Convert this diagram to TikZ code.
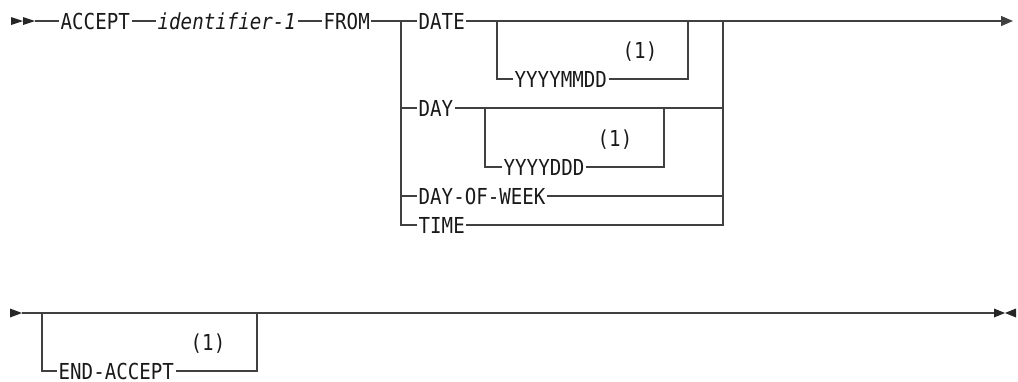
\documentclass[tikz,border=0pt]{standalone}
\usepackage{fontspec}
\setmonofont[FakeStretch=0.87]{DejaVu Sans Mono}
\usepackage{tikz}
\usetikzlibrary{arrows.meta, positioning, calc}

\begin{document}
\begin{tikzpicture}[
    x=1pt, y=-1pt,
    kw/.style={anchor=west, inner xsep=1.5pt, inner ysep=0pt, text height=16pt, text depth=0pt, font=\ttfamily\fontsize{22}{22}\selectfont, text=black!90},
    var/.style={kw, font=\ttfamily\itshape\fontsize{22}{22}\selectfont},
    note/.style={kw, anchor=center},
    rail/.style={draw=black!75, line width=1.2pt},
    tip/.style={fill=black!85}
]
    \useasboundingbox (0,0) rectangle (1018,381);

    % first line
    \coordinate (st) at (35,21);
    \node[kw] (accept) at (59,21) {ACCEPT};
    \node[var] (ident) at (156,21) {identifier-1};
    \node[kw] (from) at (322,21) {FROM};
    \coordinate (split) at (401,21);
    \node[kw] (date) at (417,21) {DATE};
    \coordinate (dL) at (497,21);
    \coordinate (dR) at (688,21);
    \node[kw] (ymd) at (513,79) {YYYYMMDD};
    \node[note] (n1) at (640,50) {(1)};
    \node[kw] (day) at (417,108) {DAY};
    \coordinate (yL) at (485,108);
    \coordinate (yR) at (664,108);
    \node[kw] (ydd) at (502,167) {YYYYDDD};
    \node[note] (n2) at (615,138) {(1)};
    \node[kw] (dow) at (417,196) {DAY-OF-WEEK};
    \node[kw] (time) at (417,225) {TIME};
    \coordinate (join) at (723,21);
    \coordinate (fin) at (1013,21);

    \fill[tip] (11,17) -- (23,21) -- (11,25) -- cycle (23,17) -- (35,21) -- (23,25) -- cycle;
    \draw[rail] (st) -- (accept.west) (accept.east) -- (ident.west) (ident.east) -- (from.west) (from.east) -- (date.west);
    \draw[rail, -{Triangle[length=12pt,width=10pt]}] (date.east) -- (fin);
    \draw[rail] (dL) |- (ymd.west) (ymd.east) -| (dR);
    \draw[rail] (split) |- (day.west) (split) |- (dow.west) (split) |- (time.west);
    \draw[rail] (day.east) -| (join);
    \draw[rail] (yL) |- (ydd.west) (ydd.east) -| (yR);
    \draw[rail] (dow.east) -| (join) (time.east) -| (join);

    % second line
    \coordinate (st2) at (22,313);
    \coordinate (bL) at (42,313);
    \coordinate (bR) at (257,313);
    \node[kw] (endacc) at (57,371) {END-ACCEPT};
    \node[note] (n3) at (208,342) {(1)};
    \coordinate (dash1) at (263,313);
    \coordinate (dash2) at (287,313);
    \coordinate (fin2) at (994,313);

    \fill[tip] (10,308.5) -- (22,313) -- (10,317.5) -- cycle;
    \draw[rail] (st2) -- (fin2);
    \draw[rail] (bL) |- (endacc.west) (endacc.east) -| (bR);
    \draw[rail, line width=2.4pt] (dash1) -- (dash2);
    \fill[tip] (994,308.5) -- (1005,313) -- (994,317.5) -- cycle (1016,308.5) -- (1005,313) -- (1016,317.5) -- cycle;
\end{tikzpicture}
\end{document}
